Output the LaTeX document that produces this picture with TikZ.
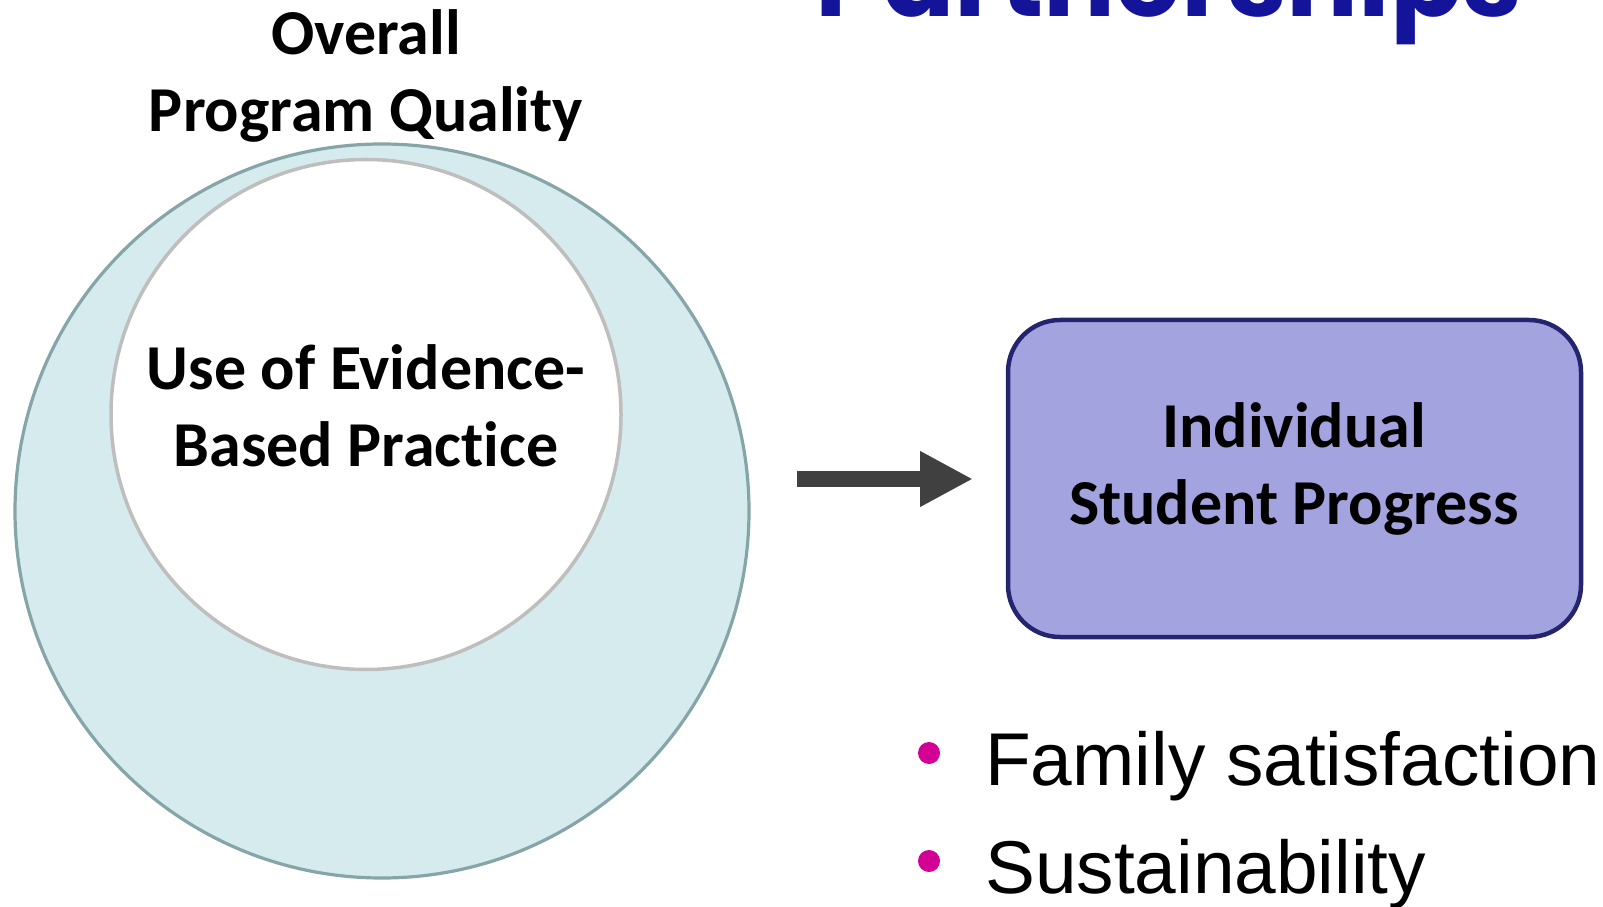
\documentclass[tikz,border=0pt]{standalone}
\usepackage{fontspec}
\setmainfont{Carlito}[Ligatures=NoCommon]
\newfontfamily\titlefont{Poppins}
\newfontfamily\bulletfont{Liberation Sans}
\usepackage{tikz}
\usetikzlibrary{arrows.meta}
\definecolor{ringfill}{HTML}{D6EBEE}
\definecolor{ringline}{HTML}{86A5A8}
\definecolor{coreline}{HTML}{BEBEBE}
\definecolor{boxfill}{HTML}{A3A3DF}
\definecolor{boxline}{HTML}{25256F}
\definecolor{arrowgray}{HTML}{404040}
\definecolor{titleblue}{HTML}{14149B}
\definecolor{dotpink}{HTML}{D40096}

\begin{document}
\begin{tikzpicture}[x=1pt,y=1pt,
lbl/.style={font=\fontsize{64}{77}\selectfont\bfseries,align=center,inner sep=0pt},
ring/.style={circle,draw=ringline,fill=ringfill,line width=3.2pt,minimum size=#1,inner sep=0pt},
core/.style={circle,draw=coreline,fill=white,line width=3.5pt,minimum size=#1,inner sep=0pt},
outcome/.style={rectangle,rounded corners=52pt,draw=boxline,fill=boxfill,line width=4.5pt,minimum width=573pt,minimum height=317pt,inner sep=0pt},
bullet/.style={circle,fill=dotpink,minimum size=22pt,inner sep=0pt}]
\useasboundingbox (0,0) rectangle (1603,906);
\clip (0,0) rectangle (1603,906);
\node[anchor=base,inner sep=0pt,text=titleblue] (title) at (1169,889)
   {\resizebox{706pt}{!}{\titlefont\bfseries Partnerships}};
% left: nested circles
\node[ring=734pt] (outer) at (382,395) {};
\node[core=510pt] (inner) at (366,491.5) {};
\node[lbl] (quality) at (366,830.5) {Overall\\Program Quality};
\node[lbl] (practice) at (366,500.5) {Use of Evidence-\\Based Practice};
% right: outcome box
\node[outcome] (box) at (1294.5,427.5) {};
\node[lbl] (progress) at (1294,437) {Individual\\Student Progress};
\coordinate (arrowtail) at (797,427);
\coordinate (arrowhead) at (973,427);
\draw[arrowgray,line width=16.5pt,-{Triangle[length=53pt,width=52pt]}] (arrowtail) -- (arrowhead);
% bullets
\foreach \y/\t in %
{121/Family satisfaction,13/Sustainability} {
   \node[bullet] at (929,\y+32) {};
   \node[anchor=base west,inner sep=0pt,font=\bulletfont\fontsize{74.8}{89}\selectfont] at (985,\y) {\t};
}
\end{tikzpicture}
\end{document}
